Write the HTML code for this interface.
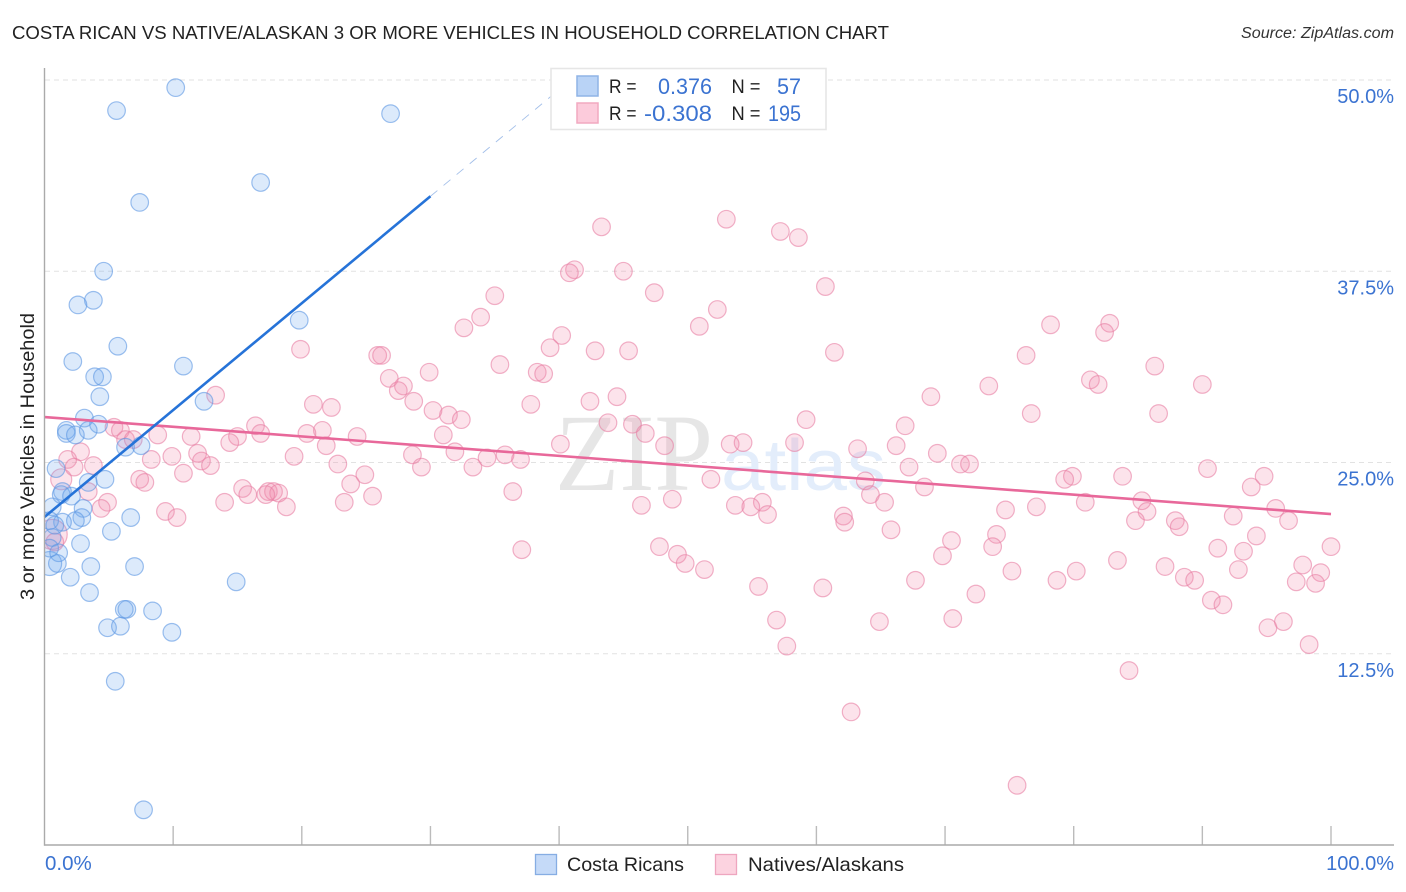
<!DOCTYPE html>
<html>
<head>
<meta charset="utf-8">
<title>Costa Rican vs Native/Alaskan correlation chart</title>
<style>
html,body{margin:0;padding:0;background:#fff;}
svg{display:block;font-family:"Liberation Sans",sans-serif;}
</style>
</head>
<body>
<svg id="chart" width="1406" height="892" viewBox="0 0 1406 892" xmlns="http://www.w3.org/2000/svg">
  <defs>
    <clipPath id="plot-clip"><rect x="45" y="60" width="1349" height="785"></rect></clipPath>
  </defs>
  <rect width="1406" height="892" fill="#ffffff"></rect>
  <text x="12" y="39" font-size="18.5" fill="#222222" textLength="877" lengthAdjust="spacingAndGlyphs">COSTA RICAN VS NATIVE/ALASKAN 3 OR MORE VEHICLES IN HOUSEHOLD CORRELATION CHART</text>
  <text x="1241" y="38" font-size="15.5" font-style="italic" fill="#333333" textLength="153" lengthAdjust="spacingAndGlyphs">Source: ZipAtlas.com</text>
  <g id="grid"></g>
  <g>
    <text x="555" y="490" font-family="'Liberation Serif',serif" font-size="110" fill="#e6e6e6" textLength="158" lengthAdjust="spacingAndGlyphs">ZIP</text>
    <text x="721" y="490" font-size="72" fill="#e3edfb" textLength="165" lengthAdjust="spacingAndGlyphs">atlas</text>
  </g>
  <g id="points" clip-path="url(#plot-clip)"></g>
  <g id="trends"></g>
  <g id="axes"></g>
  <text transform="translate(34,600) rotate(-90)" font-size="19.5" fill="#222222" textLength="287" lengthAdjust="spacingAndGlyphs">3 or more Vehicles in Household</text>
  <g>
    <rect x="551" y="68.5" width="275" height="61" fill="#ffffff" stroke="#e6e6e6" stroke-width="1.6"></rect>
    <rect x="577" y="76" width="21" height="20" fill="#b9d3f6" stroke="#8fb4e6" stroke-width="1.5"></rect>
    <rect x="577" y="103" width="21" height="20" fill="#fccbdb" stroke="#f2a9c0" stroke-width="1.5"></rect>
    <text x="609" y="93" font-size="19" fill="#222222" textLength="27.5" lengthAdjust="spacingAndGlyphs">R =</text>
    <text x="658" y="94" font-size="22.5" fill="#3b73d1" textLength="54" lengthAdjust="spacingAndGlyphs">0.376</text>
    <text x="731.5" y="93" font-size="19" fill="#222222" textLength="29" lengthAdjust="spacingAndGlyphs">N =</text>
    <text x="777" y="94" font-size="22.5" fill="#3b73d1" textLength="24" lengthAdjust="spacingAndGlyphs">57</text>
    <text x="609" y="120" font-size="19" fill="#222222" textLength="27.5" lengthAdjust="spacingAndGlyphs">R =</text>
    <text x="644" y="121" font-size="22.5" fill="#3b73d1" textLength="68" lengthAdjust="spacingAndGlyphs">-0.308</text>
    <text x="731.5" y="120" font-size="19" fill="#222222" textLength="29" lengthAdjust="spacingAndGlyphs">N =</text>
    <text x="768" y="121" font-size="22.5" fill="#3b73d1" textLength="33" lengthAdjust="spacingAndGlyphs">195</text>
  </g>
  <g>
    <rect x="535.5" y="854.5" width="21" height="20" fill="#c5daf8" stroke="#86ade3" stroke-width="1.3"></rect>
    <text x="567" y="871" font-size="19.5" fill="#222222" textLength="117" lengthAdjust="spacingAndGlyphs">Costa Ricans</text>
    <rect x="715.5" y="854.5" width="21" height="20" fill="#fcd3e0" stroke="#eea6bf" stroke-width="1.3"></rect>
    <text x="748" y="871" font-size="19.5" fill="#222222" textLength="156" lengthAdjust="spacingAndGlyphs">Natives/Alaskans</text>
  </g>
</svg>
<script>
const xTickValues = [0, 10, 20, 30, 40, 50, 60, 70, 80, 90, 100];
const xEndLabels = ["0.0%", "100.0%"];
const yTickValues = [12.5, 25, 37.5, 50];
const yTickLabels = ["12.5%", "25.0%", "37.5%", "50.0%"];

// [x %, y %] per person group
const costaRicanPoints = [
[10.2,49.5],[5.6,48.0],[26.9,47.8],[16.8,43.3],[7.4,42.0],[4.6,37.5],[3.8,35.6],[2.6,35.3],[19.8,34.3],[5.7,32.6],
[2.2,31.6],[10.8,31.3],[3.9,30.6],[4.5,30.6],[4.3,29.3],[12.4,29.0],[3.1,27.9],[4.2,27.5],[3.4,27.1],[1.7,27.1],
[1.7,26.9],[2.4,26.8],[7.5,26.1],[6.3,26.0],[0.9,24.6],[4.7,23.9],[3.4,23.7],[1.4,23.1],[1.3,22.9],[2.1,22.8],
[3.0,22.0],[0.6,22.1],[6.7,21.4],[2.9,21.4],[2.4,21.2],[1.4,21.1],[0.4,21.2],[0.8,20.9],[5.2,20.5],[0.6,20.1],
[2.8,19.7],[0.4,19.4],[1.1,19.1],[1.0,18.4],[3.6,18.2],[7.0,18.2],[2.0,17.5],[14.9,17.2],[3.5,16.5],[6.4,15.4],
[6.2,15.4],[8.4,15.3],[4.9,14.2],[5.9,14.3],[9.9,13.9],[5.5,10.7],[7.7,2.3]
];
const costaRicanLargePoints = [[0.4,18.4]];
const nativeAlaskanPoints = [
[53.0,40.9],[43.3,40.4],[57.2,40.1],[58.6,39.7],[41.2,37.6],[40.8,37.4],[45.0,37.5],[60.7,36.5],[47.4,36.1],[35.0,35.9],
[52.3,35.0],[33.9,34.5],[32.6,33.8],[50.9,33.9],[78.2,34.0],[82.8,34.1],[82.4,33.5],[40.2,33.3],[39.3,32.5],[19.9,32.4],
[42.8,32.3],[45.4,32.3],[61.4,32.2],[25.9,32.0],[26.2,32.0],[35.4,31.4],[76.3,32.0],[86.3,31.3],[29.9,30.9],[38.3,30.9],
[38.8,30.8],[26.8,30.5],[27.9,30.0],[27.5,29.7],[81.3,30.4],[81.9,30.1],[73.4,30.0],[90.0,30.1],[13.3,29.4],[28.7,29.0],
[44.5,29.3],[42.4,29.0],[37.8,28.8],[68.9,29.3],[20.9,28.8],[22.3,28.6],[30.2,28.4],[31.4,28.1],[32.4,27.8],[76.7,28.2],
[86.6,28.2],[59.2,27.8],[43.8,27.6],[45.7,27.5],[66.9,27.4],[5.4,27.3],[5.9,27.1],[21.6,27.1],[20.4,26.9],[46.7,26.9],
[31.0,26.8],[6.3,26.5],[6.9,26.5],[8.8,26.8],[11.4,26.7],[16.4,27.4],[16.8,26.9],[15.0,26.7],[14.4,26.3],[24.3,26.7],
[21.9,26.1],[58.3,26.3],[53.3,26.2],[54.3,26.3],[40.1,26.2],[48.2,26.1],[63.2,25.9],[66.2,26.1],[2.8,25.7],[1.8,25.2],
[28.6,25.5],[31.9,25.7],[35.8,25.5],[34.4,25.3],[37.0,25.2],[9.9,25.4],[8.3,25.2],[3.8,24.8],[11.9,25.6],[12.2,25.1],
[12.9,24.8],[19.4,25.4],[22.8,24.9],[29.3,24.7],[33.3,24.7],[71.2,24.9],[71.9,24.9],[67.2,24.7],[69.4,25.6],[90.4,24.6],
[2.3,24.7],[10.8,24.3],[24.9,24.2],[79.9,24.1],[63.8,23.8],[79.3,23.9],[83.8,24.1],[94.8,24.1],[7.4,23.9],[7.8,23.7],
[51.8,23.9],[23.8,23.6],[15.4,23.3],[17.4,23.1],[17.8,23.1],[18.2,23.0],[15.8,22.9],[17.2,22.9],[3.4,23.1],[36.4,23.1],
[25.5,22.8],[93.8,23.4],[68.4,23.4],[64.2,22.9],[23.3,22.4],[48.8,22.6],[4.9,22.4],[14.0,22.4],[4.4,22.0],[18.8,22.1],
[46.4,22.2],[53.7,22.2],[55.8,22.4],[65.3,22.4],[54.9,22.1],[56.2,21.6],[74.7,21.9],[77.1,22.1],[80.9,22.4],[85.3,22.5],
[85.7,21.8],[95.7,22.0],[9.4,21.8],[10.3,21.4],[62.1,21.5],[62.2,21.1],[84.8,21.2],[87.9,21.2],[88.2,20.8],[92.4,21.5],
[96.7,21.2],[65.8,20.6],[74.0,20.3],[73.7,19.5],[70.5,19.9],[94.2,20.2],[47.8,19.5],[37.1,19.3],[100,19.5],[91.2,19.4],
[93.2,19.2],[49.2,19.0],[49.8,18.4],[51.3,18.0],[69.8,18.9],[83.4,18.6],[97.8,18.3],[80.2,17.9],[75.2,17.9],[87.1,18.2],
[92.8,18.0],[88.6,17.5],[89.4,17.3],[99.2,17.8],[97.3,17.2],[98.8,17.1],[67.7,17.3],[55.5,16.9],[60.5,16.8],[78.7,17.3],
[72.4,16.4],[90.7,16.0],[91.6,15.7],[56.9,14.7],[70.6,14.8],[64.9,14.6],[95.1,14.2],[96.3,14.6],[57.7,13.0],[98.3,13.1],
[84.3,11.4],[62.7,8.7],[75.6,3.9],[0.8,19.8]
];
const nativeAlaskanLargePoints = [[1.3,23.9]];
const nativeAlaskanHugePoints = [[0.6,20.3]];

const costaRicanTrendX = [0, 30];
const costaRicanTrendY = [21.44, 42.4];
const costaRicanProjectionX = [30, 40.9];
const costaRicanProjectionY = [42.4, 50];
const nativeAlaskanTrendX = [0, 100];
const nativeAlaskanTrendY = [27.97, 21.63];

const NS = 'http://www.w3.org/2000/svg';
const plotLeft = 44.5, plotRight = 1331, plotBottom = 845, plotTop = 80;
function xScale(v) { return plotLeft + (v / 100) * (plotRight - plotLeft); }
function yScale(v) { return plotBottom - (v / 50) * (plotBottom - plotTop); }
function make(tag, attrs, parent) {
  const el = document.createElementNS(NS, tag);
  for (const k in attrs) el.setAttribute(k, attrs[k]);
  parent.appendChild(el);
  return el;
}

const grid = document.getElementById('grid');
const axes = document.getElementById('axes');
const pointsLayer = document.getElementById('points');
const trends = document.getElementById('trends');

yTickValues.forEach(function (v, i) {
  const line = make('line', {x1: 45, x2: 1394, y1: yScale(v), y2: yScale(v), stroke: '#e2e2e2', 'stroke-width': 1, 'stroke-dasharray': '5 4'}, grid);
  
  
  const label = make('text', {x: 1394, y: yScale(v) + 23, 'font-size': 20, fill: '#3b73d1', 'text-anchor': 'end'}, axes);
  label.textContent = yTickLabels[i];
  
  
});

xTickValues.forEach(function (v) {
  if (v === 0) return;
  const tick = make('line', {x1: xScale(v), x2: xScale(v), y1: 826, y2: plotBottom, stroke: '#bbbbbb', 'stroke-width': 1.4}, axes);
  
  
});

const yAxisLine = make('line', {x1: plotLeft, x2: plotLeft, y1: 68, y2: plotBottom + 0.7, stroke: '#aaaaaa', 'stroke-width': 1.4}, axes);


const xAxisLine = make('line', {x1: plotLeft, x2: 1394, y1: plotBottom, y2: plotBottom, stroke: '#aaaaaa', 'stroke-width': 1.4}, axes);



const xStartLabel = make('text', {x: 45, y: 870, 'font-size': 20.5, fill: '#3b73d1'}, axes);
xStartLabel.textContent = xEndLabels[0];


const xEndLabel = make('text', {x: 1394, y: 870, 'font-size': 20, fill: '#3b73d1', 'text-anchor': 'end'}, axes);
xEndLabel.textContent = xEndLabels[1];



function drawPoints(points, radius, fill, stroke, name) {
  points.forEach(function (p) {
    const c = make('circle', {cx: xScale(p[0]), cy: yScale(p[1]), r: radius, fill: fill, 'fill-opacity': 0.24, stroke: stroke, 'stroke-opacity': 0.6, 'stroke-width': 1.2}, pointsLayer);
    
    
  });
}
drawPoints(nativeAlaskanHugePoints, 15, '#f48cab', '#e87fa3', 'native-alaskan-point');
drawPoints(nativeAlaskanLargePoints, 10.5, '#f48cab', '#e87fa3', 'native-alaskan-point');
drawPoints(nativeAlaskanPoints, 8.8, '#f48cab', '#e87fa3', 'native-alaskan-point');
drawPoints(costaRicanLargePoints, 12, '#6ea6ee', '#5b96e3', 'costa-rican-point');
drawPoints(costaRicanPoints, 8.8, '#6ea6ee', '#5b96e3', 'costa-rican-point');

const pinkTrend = make('line', {x1: xScale(nativeAlaskanTrendX[0]), y1: yScale(nativeAlaskanTrendY[0]), x2: xScale(nativeAlaskanTrendX[1]), y2: yScale(nativeAlaskanTrendY[1]), stroke: '#e8689a', 'stroke-width': 2.6}, trends);


const blueProjection = make('line', {x1: xScale(costaRicanProjectionX[0]), y1: yScale(costaRicanProjectionY[0]), x2: xScale(costaRicanProjectionX[1]), y2: yScale(costaRicanProjectionY[1]), stroke: '#a3bfe9', 'stroke-width': 0.9, 'stroke-dasharray': '9 8'}, trends);


const blueTrend = make('line', {x1: xScale(costaRicanTrendX[0]), y1: yScale(costaRicanTrendY[0]), x2: xScale(costaRicanTrendX[1]), y2: yScale(costaRicanTrendY[1]), stroke: '#2673d8', 'stroke-width': 2.6}, trends);


</script>
</body>
</html>
